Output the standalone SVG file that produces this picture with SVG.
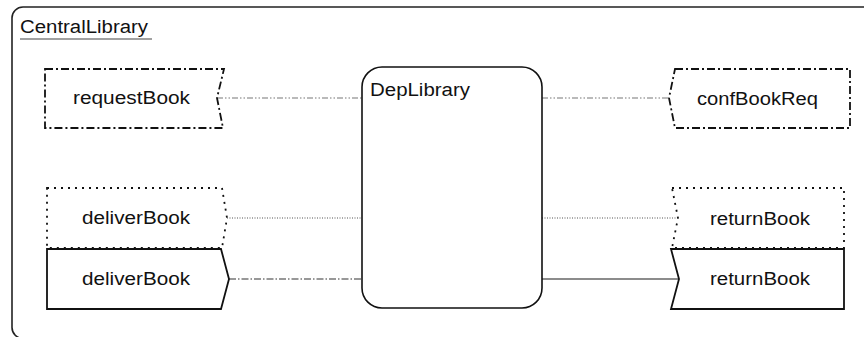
<svg xmlns="http://www.w3.org/2000/svg" width="864" height="337" viewBox="0 0 864 337">
  <style>
    .lbl { font-family: "Liberation Sans", Arial, sans-serif; font-size: 18px; fill: #111; }
    .frame { fill: #fff; stroke: #222; stroke-width: 1.6; }
    .part { fill: #fff; stroke: #111; stroke-width: 1.6; }
    .port-dd { fill: #fff; stroke: #111; stroke-width: 1.8; stroke-dasharray: 8 3 2 3; }
    .port-dot { fill: #fff; stroke: #111; stroke-width: 1.8; stroke-dasharray: 2 5; }
    .port-solid { fill: #fff; stroke: #111; stroke-width: 1.8; }
    .conn-ddot { stroke: #777; stroke-width: 1.2; fill: none; stroke-dasharray: 6 2 1.5 2 1.5 2; }
    .conn-dot { stroke: #555; stroke-width: 1.2; fill: none; stroke-dasharray: 1 1.5; }
    .conn-dash { stroke: #333; stroke-width: 1.2; fill: none; stroke-dasharray: 7 2 1.5 2; }
    .conn-solid { stroke: #666; stroke-width: 1.6; fill: none; }
  </style>

  <!-- enclosing component -->
  <g id="CentralLibrary">
    <rect class="frame" x="12" y="7" width="880" height="331.5" rx="11"/>
    <text class="lbl" x="20" y="33" textLength="128" lengthAdjust="spacingAndGlyphs">CentralLibrary</text>
    <line x1="20" y1="39" x2="152" y2="39" stroke="#444" stroke-width="1.2"/>
  </g>

  <!-- connectors -->
  <g id="connectors">
    <line class="conn-ddot" x1="217" y1="98" x2="362" y2="98"/>
    <line class="conn-ddot" x1="542" y1="98" x2="669" y2="98"/>
    <line class="conn-dot" x1="227" y1="218" x2="362" y2="218"/>
    <line class="conn-dot" x1="542" y1="218" x2="678" y2="218"/>
    <line class="conn-dash" x1="229" y1="279" x2="362" y2="279"/>
    <line class="conn-solid" x1="542" y1="279" x2="678" y2="279"/>
  </g>

  <!-- inner part -->
  <g id="DepLibrary">
    <rect class="part" x="362" y="67" width="180" height="241" rx="20"/>
    <text class="lbl" x="370" y="96" textLength="100" lengthAdjust="spacingAndGlyphs">DepLibrary</text>
  </g>

  <!-- ports, left side -->
  <g id="requestBook">
    <path class="port-dd" d="M45 69 L224 69 L217 98 L223 128 L45 128 Z"/>
    <text class="lbl" x="73" y="104" textLength="117" lengthAdjust="spacingAndGlyphs">requestBook</text>
  </g>
  <g id="deliverBook-dotted">
    <path class="port-dot" d="M47 188 L222 188 L227 218 L222 248 L47 248 Z"/>
    <text class="lbl" x="82" y="224" textLength="108" lengthAdjust="spacingAndGlyphs">deliverBook</text>
  </g>
  <g id="deliverBook">
    <path class="port-solid" d="M47 249 L221 249 L229 279 L221 309 L47 309 Z"/>
    <text class="lbl" x="82" y="285" textLength="108" lengthAdjust="spacingAndGlyphs">deliverBook</text>
  </g>

  <!-- ports, right side -->
  <g id="confBookReq">
    <path class="port-dd" d="M675 69 L850 69 L850 128 L675 128 L669 98 Z"/>
    <text class="lbl" x="697" y="105" textLength="121" lengthAdjust="spacingAndGlyphs">confBookReq</text>
  </g>
  <g id="returnBook-dotted">
    <path class="port-dot" d="M672 188 L844 188 L844 248 L672 248 L678 218 Z"/>
    <text class="lbl" x="710" y="225" textLength="100" lengthAdjust="spacingAndGlyphs">returnBook</text>
  </g>
  <g id="returnBook">
    <path class="port-solid" d="M671 249 L844 249 L844 309 L671 309 L679 279 Z"/>
    <text class="lbl" x="710" y="285" textLength="100" lengthAdjust="spacingAndGlyphs">returnBook</text>
  </g>
</svg>
